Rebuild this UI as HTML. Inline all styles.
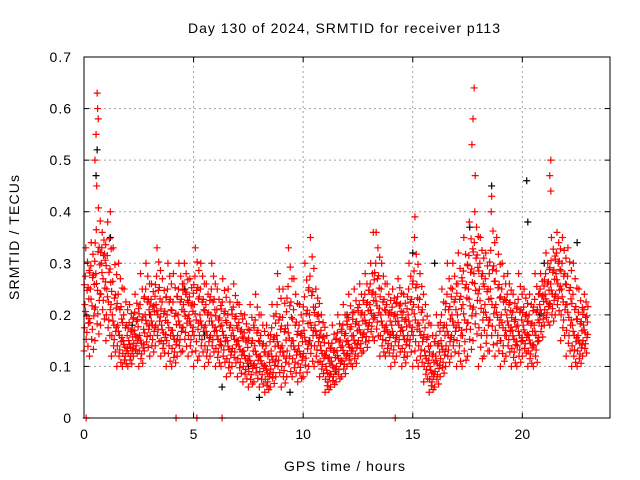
<!DOCTYPE html>
<html><head><meta charset="utf-8"><style>
html,body{margin:0;padding:0;background:#fff;}
svg{display:block;font-family:"Liberation Sans",sans-serif;}
</style></head><body>
<svg id="chart" width="640" height="480">
<text x="188" y="33" font-size="14" textLength="312" lengthAdjust="spacing">Day 130 of 2024, SRMTID for receiver p113</text>
<text x="284" y="471" font-size="14" textLength="121" lengthAdjust="spacing">GPS time / hours</text>
<text transform="translate(19,300) rotate(-90)" font-size="14" textLength="125" lengthAdjust="spacing">SRMTID / TECUs</text>
<g id="grid"></g><g id="marks"></g><g id="axes"></g>
</svg>
<script>
const xTicks = [0,5,10,15,20];
const yTicks = [0,0.1,0.2,0.3,0.4,0.5,0.6,0.7];
const yTickLabels = ["0","0.1","0.2","0.3","0.4","0.5","0.6","0.7"];
// red series bands: [hour, low, mid, high]
const redBands = [
[0,.13,.22,.33],[0.25,.12,.25,.34],[0.5,.15,.28,.45],[0.75,.18,.3,.36],[1,.15,.25,.38],[1.25,.12,.2,.33],[1.5,.1,.18,.3],[1.75,.1,.15,.25],
[2,.1,.15,.22],[2.25,.12,.17,.24],[2.5,.1,.16,.28],[2.75,.13,.2,.3],[3,.12,.2,.26],[3.25,.14,.22,.33],[3.5,.12,.18,.27],[3.75,.1,.2,.3],
[4,.1,.17,.28],[4.25,.12,.2,.3],[4.5,.13,.22,.3],[4.75,.12,.2,.27],[5,.1,.22,.33],[5.25,.12,.2,.3],[5.5,.1,.18,.26],[5.75,.12,.2,.3],
[6,.1,.17,.25],[6.25,.1,.18,.27],[6.5,.08,.15,.25],[6.75,.1,.17,.26],[7,.08,.15,.22],[7.25,.07,.13,.2],[7.5,.06,.12,.22],[7.75,.07,.14,.24],
[8,.06,.12,.2],[8.25,.05,.1,.18],[8.5,.06,.13,.22],[8.75,.08,.16,.28],[9,.06,.14,.25],[9.25,.08,.18,.33],[9.5,.08,.15,.27],[9.75,.07,.14,.22],
[10,.08,.17,.3],[10.25,.1,.2,.35],[10.5,.1,.18,.25],[10.75,.08,.14,.2],[11,.05,.1,.16],[11.25,.06,.11,.18],[11.5,.07,.13,.2],[11.75,.08,.14,.22],
[12,.1,.15,.24],[12.25,.1,.16,.25],[12.5,.12,.18,.26],[12.75,.13,.2,.28],[13,.15,.22,.3],[13.25,.15,.24,.36],[13.5,.12,.2,.3],[13.75,.12,.18,.26],
[14,.1,.18,.25],[14.25,.12,.2,.27],[14.5,.1,.17,.24],[14.75,.12,.2,.3],[15,.1,.22,.35],[15.25,.1,.18,.28],[15.5,.07,.13,.22],[15.75,.05,.1,.18],
[16,.06,.12,.2],[16.25,.08,.15,.25],[16.5,.1,.18,.3],[16.75,.12,.2,.3],[17,.1,.2,.32],[17.25,.1,.22,.35],[17.5,.12,.25,.38],[17.75,.15,.28,.4],
[18,.1,.25,.35],[18.25,.12,.22,.32],[18.5,.13,.25,.4],[18.75,.12,.22,.35],[19,.1,.2,.3],[19.25,.12,.2,.28],[19.5,.1,.17,.24],[19.75,.1,.18,.28],
[20,.12,.18,.25],[20.25,.1,.16,.24],[20.5,.1,.18,.28],[20.75,.15,.22,.28],[21,.18,.24,.32],[21.25,.18,.26,.35],[21.5,.2,.28,.36],[21.75,.15,.25,.35],
[22,.12,.22,.33],[22.25,.1,.18,.3],[22.5,.1,.16,.25],[22.75,.12,.18,.24]
];
const redPoints = [[0.6,.63],[0.62,.6],[0.55,.55],[0.5,.5],[0.65,.58],[1.2,.4],[17.8,.64],[17.75,.58],[17.7,.53],[17.85,.47],[18.6,.43],
[21.3,.5],[21.25,.47],[21.3,.44],[15.1,.39],[13.2,.36],[0.1,0],[4.2,0],[5.15,0],[6.3,0],[14.2,0]];
const blackPoints = [[0.6,.52],[0.55,.47],[18.6,.45],[20.2,.46],[20.25,.38],[17.6,.37],[6.3,.06],[8.0,.04],[9.4,.05],[10.3,.15],
[3.0,.2],[12.0,.2],[19.0,.15],[22.5,.34],[21.0,.3],[15.0,.32],[1.2,.35],[7.5,.1],[16.0,.3],[5.5,.16],[2.2,.18],[4.6,.25],[13.8,.22],[11.5,.09],[20.8,.2]];

const X0=84,X1=610,Y0=418,Y1=57;
const xs=h=>X0+(X1-X0)*h/24;
const ys=v=>Y0-(Y0-Y1)*v/0.7;
const NS="http://www.w3.org/2000/svg";
function mk(tag,attrs,parent){const e=document.createElementNS(NS,tag);for(const k in attrs)e.setAttribute(k,attrs[k]);parent.appendChild(e);return e;}
const grid=document.getElementById('grid'),marks=document.getElementById('marks'),axes=document.getElementById('axes');
yTicks.forEach((v,i)=>{
  if(v>0&&v<0.7){const l=mk('line',{x1:X0,x2:X1,y1:ys(v),y2:ys(v),stroke:'#a0a0a0','stroke-dasharray':'2,3'},grid);
  
  }
  const t=mk('text',{x:X0-12,y:ys(v)+5,'text-anchor':'end','font-size':14,'letter-spacing':'1'},axes);t.textContent=yTickLabels[i];
  
  
  mk('line',{x1:X0,x2:X0+5,y1:ys(v),y2:ys(v),stroke:'#000'},axes);
  mk('line',{x1:X1,x2:X1-5,y1:ys(v),y2:ys(v),stroke:'#000'},axes);
});
xTicks.forEach(h=>{
  if(h>0){const l=mk('line',{x1:xs(h),x2:xs(h),y1:Y0,y2:Y1,stroke:'#a0a0a0','stroke-dasharray':'2,3'},grid);
  
  }
  const t=mk('text',{x:xs(h),y:Y0+21,'text-anchor':'middle','font-size':14},axes);t.textContent=String(h);
  
  
  mk('line',{x1:xs(h),x2:xs(h),y1:Y0,y2:Y0-5,stroke:'#000'},axes);
  mk('line',{x1:xs(h),x2:xs(h),y1:Y1,y2:Y1+5,stroke:'#000'},axes);
});
const frame=mk('rect',{x:X0,y:Y1,width:X1-X0,height:Y0-Y1,fill:'none',stroke:'#000'},axes);


function plus(h,v,color,name){
  const x=xs(h),y=ys(v);
  const p=mk('path',{d:`M${x-3.5},${y}h7M${x},${y-3.5}v7`,stroke:color,'stroke-width':1.2,fill:'none'},marks);
  
  
}
// fixed sampling pattern within each band: [hour offset, fraction lo->mid (neg) or mid->hi (pos)]
const pattern=[[0,-1],[0.02,-0.5],[0.04,0],[0.06,0.5],[0.08,1],[0.1,-0.75],[0.12,-0.25],[0.14,0.25],[0.16,0.75],[0.18,-0.9],[0.2,-0.4],[0.22,0.1],[0.24,0.6],[0.01,0.35],[0.13,-0.6],[0.19,0.3],[0.07,-0.15],[0.23,-0.3]];
blackPoints.forEach(d=>plus(d[0],d[1],'#000','black-point'));
redBands.forEach(d=>{
  const [t,lo,mid,hi]=d;
  pattern.forEach(p=>{
    const f=p[1];
    const v=f<0?mid+(mid-lo)*f:mid+(hi-mid)*f;
    plus(t+p[0],v,'#f00','red-point');
  });
});
redPoints.forEach(d=>plus(d[0],d[1],'#f00','red-point'));
</script>
</body></html>
